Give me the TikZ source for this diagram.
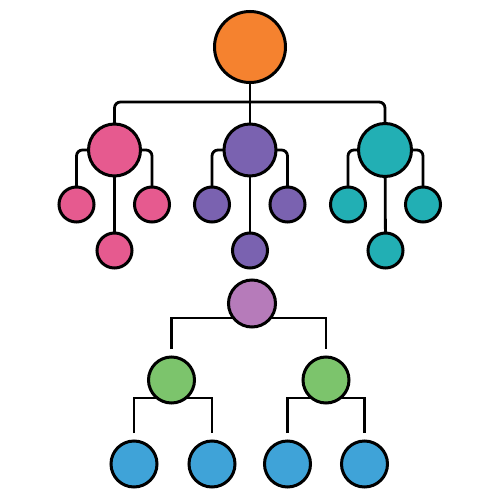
\documentclass[tikz,border=0pt]{standalone}
\usetikzlibrary{backgrounds}
\definecolor{corange}{HTML}{F5822F}
\definecolor{cpink}{HTML}{E65A8F}
\definecolor{cpurple}{HTML}{7A62B0}
\definecolor{cteal}{HTML}{22AFB4}
\definecolor{clilac}{HTML}{B67BBA}
\definecolor{cgreen}{HTML}{7CC46C}
\definecolor{cblue}{HTML}{3FA3D8}
\tikzset{
  ball/.style={circle,draw=black,line width=3pt,inner sep=0pt,outer sep=0pt},
  bigball/.style={ball,minimum size=52pt},
  smallball/.style={ball,minimum size=35pt},
  conn/.style={draw=black,line width=2.8pt,rounded corners=6pt},
  sconn/.style={draw=black,line width=2.8pt}
}
\begin{document}
\begin{tikzpicture}[x=1pt,y=-1pt]
\useasboundingbox (0,0) rectangle (500,500);
% top
\node[ball,minimum size=71pt,fill=corange] (top) at (250,47) {};
\node[bigball,fill=cpink] (p) at (114.5,150) {};
\node[bigball,fill=cpurple] (u) at (250,150) {};
\node[bigball,fill=cteal,minimum size=53pt] (t) at (385,150) {};
\coordinate (hub) at (250,102);
% small children
\node[smallball,fill=cpink] (p1) at (76.5,204.5) {};
\node[smallball,fill=cpink] (p2) at (152,204.5) {};
\node[smallball,fill=cpink] (p3) at (114.5,250.5) {};
\node[smallball,fill=cpurple] (u1) at (212,204.5) {};
\node[smallball,fill=cpurple] (u2) at (287.5,204.5) {};
\node[smallball,fill=cpurple] (u3) at (250,250.5) {};
\node[smallball,fill=cteal] (t1) at (348,204.5) {};
\node[smallball,fill=cteal] (t2) at (423,204.5) {};
\node[smallball,fill=cteal] (t3) at (385.5,250.5) {};
% lower tree
\node[ball,minimum size=47pt,fill=clilac] (l) at (252,303.5) {};
\node[ball,minimum size=46pt,fill=cgreen] (g1) at (171.5,380) {};
\node[ball,minimum size=46pt,fill=cgreen] (g2) at (326,380) {};
\node[ball,minimum size=46pt,fill=cblue] (b1) at (134,464) {};
\node[ball,minimum size=46pt,fill=cblue] (b2) at (212,464) {};
\node[ball,minimum size=46pt,fill=cblue] (b3) at (287.5,464) {};
\node[ball,minimum size=46pt,fill=cblue] (b4) at (364.5,464) {};
\coordinate (lbar) at (252,318);
\coordinate (g1bar) at (171.5,398);
\coordinate (g2bar) at (326,398);
\begin{pgfonlayer}{background}
\draw[sconn] (top) -- (u);
\draw[conn] (p.north) -- (p.north |- hub) -- (t.north |- hub) -- (t.north);
\draw[conn] (p.west) -| (p1.north);
\draw[conn] (p.east) -| (p2.north);
\draw[sconn] (p) -- (p3);
\draw[conn] (u.west) -| (u1.north);
\draw[conn] (u.east) -| (u2.north);
\draw[sconn] (u) -- (u3);
\draw[conn] (t.west) -| (t1.north);
\draw[conn] (t.east) -| (t2.north);
\draw[sconn] (t) -- (t3);
\draw[sconn] ([yshift=8pt]g1.north) |- (lbar) -| ([yshift=8pt]g2.north);
\draw[sconn] ([yshift=8pt]b1.north) |- (g1bar) -| ([yshift=8pt]b2.north);
\draw[sconn] ([yshift=8pt]b3.north) |- (g2bar) -| ([yshift=8pt]b4.north);
\end{pgfonlayer}
\end{tikzpicture}
\end{document}
